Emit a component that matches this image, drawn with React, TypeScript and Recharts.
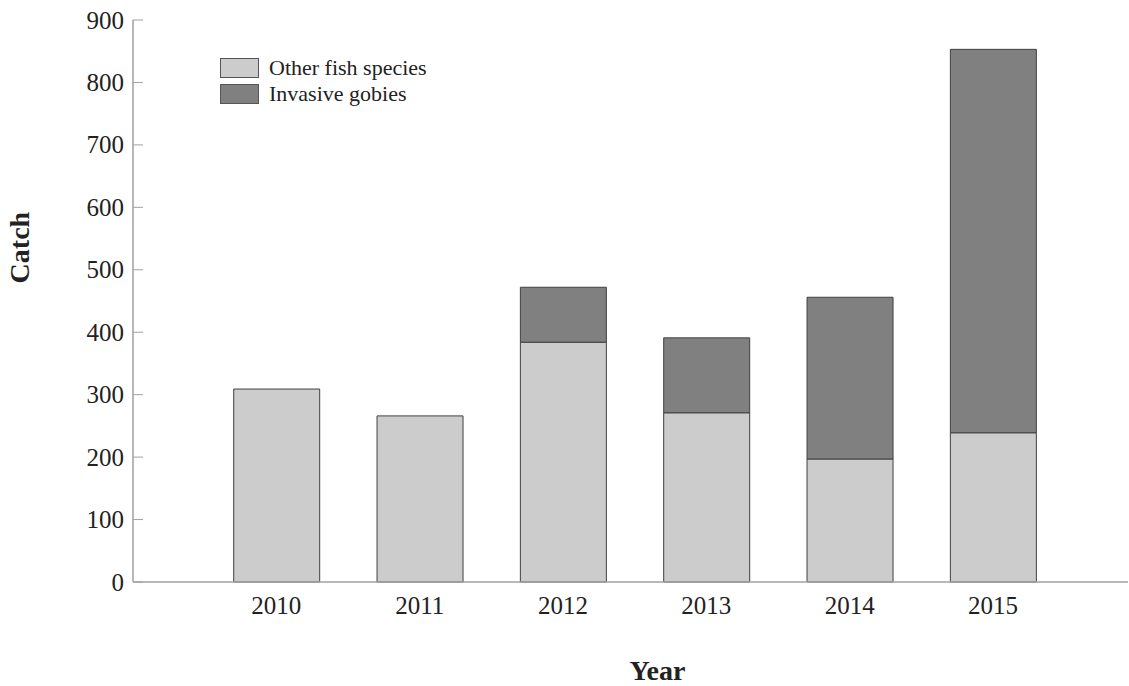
import React from 'react';
import { BarChart, Bar, XAxis, YAxis } from 'recharts';

const years = ['2010', '2011', '2012', '2013', '2014', '2015'];
const otherFish = [309, 266, 384, 271, 197, 239];
const gobies = [0, 0, 88, 120, 259, 614];
const yTicks = [0, 100, 200, 300, 400, 500, 600, 700, 800, 900];
const seriesNames = ['Other fish species', 'Invasive gobies'];

const data = years.map((y, i) => ({ year: y, other: otherFish[i], gobies: gobies[i] }));

const FONT = '"Liberation Serif", "DejaVu Serif", serif';
const LIGHT = '#cccccc';
const DARK = '#808080';
const EDGE = '#404040';
const AXIS = '#a0a0a0';
const colors = [LIGHT, DARK];

const YTick = (props: any) => {
  const { x, y, payload } = props;
  return (
    <g>
      <line x1={x} x2={x + 10} y1={y} y2={y} stroke={AXIS} strokeWidth={1} />
      <text x={x - 9} y={y} textAnchor="end" dominantBaseline="central" fontFamily={FONT} fontSize={25} fill="#222">
        {payload.value}
      </text>
    </g>
  );
};

const XTick = (props: any) => {
  const { x, y, payload } = props;
  return (
    <text x={x} y={y + 32} textAnchor="middle" fontFamily={FONT} fontSize={25} fill="#222">
      {payload.value}
    </text>
  );
};

const LegendBox = () => (
  <div style={{ position: 'absolute', left: 220, top: 55, fontFamily: FONT, fontSize: 22, color: '#222', lineHeight: '26px' }}>
    {seriesNames.map((label, i) => (
      <div key={label} style={{ display: 'flex', alignItems: 'center', height: 26 }}>
        <span
          style={{
            display: 'inline-block',
            width: 37,
            height: 18,
            background: colors[i],
            border: '1px solid #555',
            marginRight: 10,
          }}
        />
        <span>{label}</span>
      </div>
    ))}
  </div>
);

export default function App() {
  return (
    <div style={{ position: 'absolute', left: 0, top: 0, width: 1129, height: 686, background: '#fff' }}>
      <BarChart width={1129} height={686} data={data} margin={{ top: 20, right: 1, left: 0, bottom: 0 }}>
        <XAxis
          dataKey="year"
          type="category"
          padding={{ left: 71.7, right: 63.3 }}
          height={104}
          axisLine={{ stroke: AXIS, strokeWidth: 1.5 }}
          tickLine={false}
          tickSize={0}
          tickMargin={0}
          tick={<XTick />}
          label={{
            content: (p: any) => {
              const vb = p.viewBox;
              return (
                <text x={vb.x + vb.width / 2 + 27} y={vb.y + 98} textAnchor="middle" fontFamily={FONT} fontSize={28} fontWeight="bold" fill="#222">
                  Year
                </text>
              );
            },
          }}
        />
        <YAxis
          width={133}
          domain={[0, 900]}
          ticks={yTicks}
          interval={0}
          axisLine={{ stroke: AXIS, strokeWidth: 1.5 }}
          tickLine={false}
          tickSize={0}
          tickMargin={0}
          tick={<YTick />}
          label={{
            content: (p: any) => {
              const vb = p.viewBox;
              const cx = vb.x + 20;
              const cy = vb.y + vb.height * 0.405;
              return (
                <text x={cx} y={cy} transform={`rotate(-90 ${cx} ${cy})`} textAnchor="middle" dominantBaseline="central" fontFamily={FONT} fontSize={28} fontWeight="bold" fill="#222">
                  Catch
                </text>
              );
            },
          }}
        />
        <Bar dataKey="other" name={seriesNames[0]} stackId="a" fill={LIGHT} stroke={EDGE} strokeWidth={1} barSize={86} isAnimationActive={false} />
        <Bar dataKey="gobies" name={seriesNames[1]} stackId="a" fill={DARK} stroke={EDGE} strokeWidth={1} barSize={86} isAnimationActive={false} />
      </BarChart>
      <LegendBox />
    </div>
  );
}
